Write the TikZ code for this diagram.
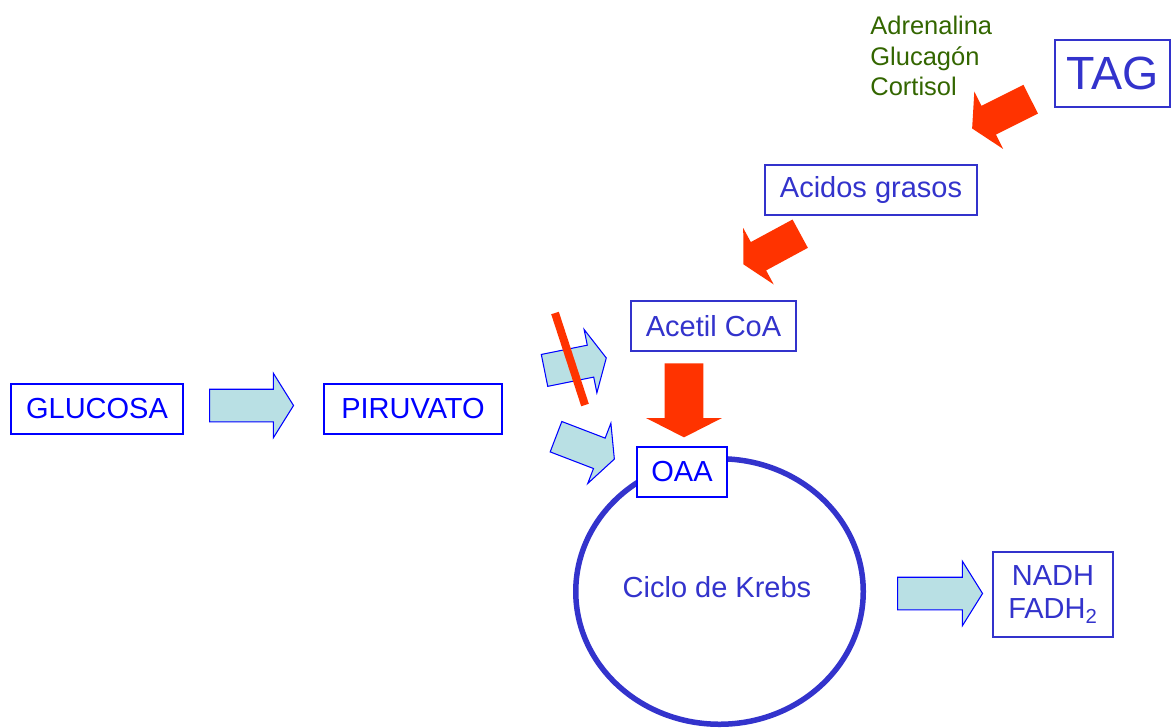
\documentclass[tikz,border=0pt]{standalone}
\usepackage{fontspec}
\setmainfont{Liberation Sans}
\usepackage{xcolor}
\usetikzlibrary{shapes.geometric, shapes.arrows}
\definecolor{pureblue}{RGB}{0,0,255}
\definecolor{indigo}{RGB}{51,51,204}
\definecolor{hormone}{RGB}{51,102,0}
\definecolor{pale}{RGB}{185,224,228}
\definecolor{alarm}{RGB}{255,51,0}
\tikzstyle{metab} = [rectangle, draw=indigo, text=indigo, fill=white, line width=0.8pt, inner sep=0pt, minimum height=1cm, align=center, font=\fontsize{16.5}{19}\selectfont]
\tikzstyle{glyco} = [metab, draw=pureblue, text=pureblue]
\tikzstyle{cycle} = [ellipse, draw=indigo, text=indigo, line width=0.11cm, minimum width=5.75cm, minimum height=5.31cm, font=\fontsize{16.5}{19}\selectfont]
\tikzstyle{flow} = [single arrow, draw=pureblue, fill=pale, line width=0.6pt, inner xsep=0pt, inner ysep=0.315cm, single arrow head extend=0.32cm, single arrow tip angle=116, anchor=tail]
\tikzstyle{push} = [single arrow, draw=none, fill=alarm, inner xsep=0pt, inner ysep=0.315cm, single arrow head extend=0.32cm, single arrow tip angle=120, anchor=tail]

\begin{document}
\begin{tikzpicture}[yscale=-1]

\clip (0,0) rectangle (23.42,14.54);

\node at (14.39,11.83) (krebs) [cycle] {};
\node at (14.34,11.74) (ciclo) [text=indigo, font=\fontsize{16.5}{19}\selectfont] {Ciclo de Krebs};

\node at (1.94,8.18) (glucosa) [glyco, minimum width=3.44cm] {GLUCOSA};
\node at (8.26,8.18) (piruvato) [glyco, minimum width=3.56cm] {PIRUVATO};
\node at (13.64,9.44) (oaa) [glyco, minimum width=1.8cm] {OAA};
\node at (14.27,6.52) (acetil) [metab, minimum width=3.3cm] {Acetil CoA};
\node at (17.42,3.8) (acidos) [metab, minimum width=4.24cm] {Acidos grasos};
\node at (22.25,1.47) (tag) [metab, minimum width=2.3cm, minimum height=1.34cm, font=\fontsize{26.5}{30}\selectfont] {TAG};
\node at (21.06,11.89) (nadh) [metab, minimum width=2.4cm, minimum height=1.7cm] {NADH\\FADH\textsubscript{2}};

\node at (17.4,0.32) (hormonas) [anchor=north west, align=left, inner sep=0pt, text=hormone, font=\fontsize{14.5}{17.4}\selectfont] {Adrenalina\\Glucagón\\Cortisol};

% block arrows
\node at (4.18,8.11) (glicolisis) [flow, minimum height=1.68cm] {};
\node at (10.88,7.41) (pdh) [flow, rotate=11.4, minimum height=1.26cm, single arrow tip angle=127] {};
\node at (11.11,8.73) (pc) [flow, rotate=-21, minimum height=1.25cm, single arrow tip angle=127] {};
\node at (17.94,11.87) (salida) [flow, minimum height=1.7cm] {};

\node at (20.62,1.98) (lipolisis) [push, rotate=206.6, minimum height=1.31cm] {};
\node at (16.01,4.67) (betaox) [push, rotate=208.4, minimum height=1.29cm, single arrow tip angle=124] {};
\node at (13.68,7.26) (entrada) [push, rotate=-90, minimum height=1.48cm, inner ysep=0.38cm, single arrow head extend=0.37cm, single arrow tip angle=126] {};

\draw [alarm, line width=0.16cm] (11.1,6.26) -- (11.7,8.1);

\end{tikzpicture}
\end{document}
